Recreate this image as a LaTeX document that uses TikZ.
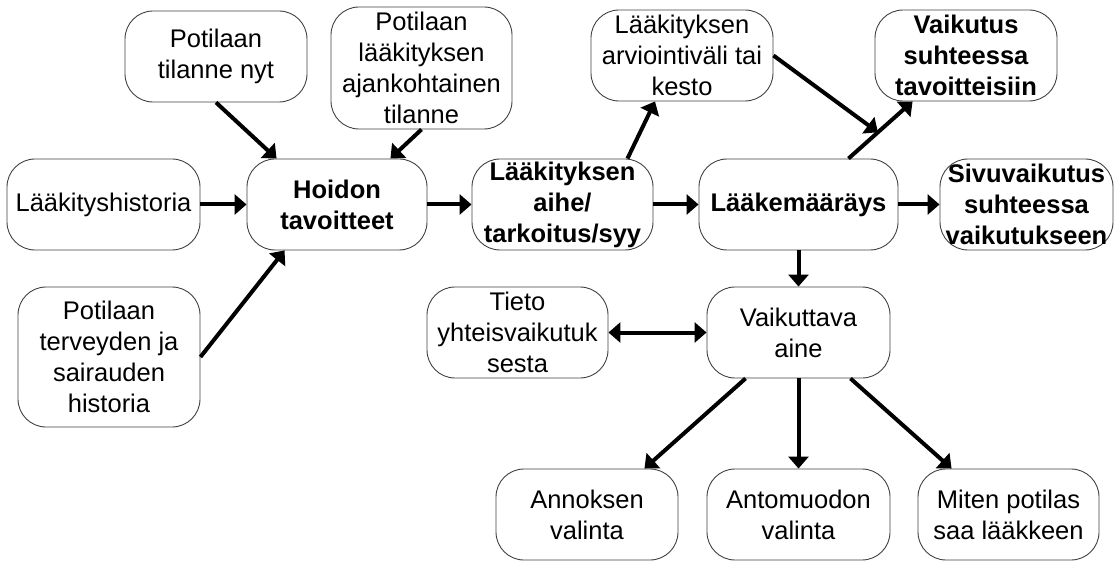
\documentclass[tikz,border=0pt]{standalone}
\usepackage{fontspec}
\setmainfont{Liberation Sans}
\usetikzlibrary{arrows.meta,calc}
\tikzset{
  box/.style={draw=black!75, line width=0.9pt, rounded corners=28pt, inner sep=0pt,
    align=center, font=\fontsize{25.5}{31}\selectfont,
    minimum width=182pt, minimum height=91pt},
  bbox/.style={box, font=\fontsize{25.5}{31}\selectfont\bfseries},
  link/.style={line width=4pt, -{Triangle[length=12pt,width=20pt]}},
  dlink/.style={line width=4pt, {Triangle[length=12pt,width=20pt]}-{Triangle[length=12pt,width=20pt]}},
}
\begin{document}
\begin{tikzpicture}[x=1pt, y=-1pt]
\useasboundingbox (0,0) rectangle (1118,561);

% upper row of inputs
\node[box] (tilanne) at (216,56.5) {Potilaan\\tilanne nyt};
\node[box, minimum width=181pt, minimum height=122pt] (ajank) at (421.5,68)
  {Potilaan\\lääkityksen\\ajankohtainen\\tilanne};
\node[box] (arvio) at (682,55.5) {Lääkityksen\\arviointiväli tai\\kesto};
\node[bbox] (vaik) at (966,55.5) {Vaikutus\\suhteessa\\tavoitteisiin};

% main chain
\node[box, minimum width=193pt] (hist) at (103.5,204.5) {Lääkityshistoria};
\node[bbox, minimum width=180pt] (hoidon) at (337,204.5) {Hoidon\\tavoitteet};
\node[bbox, minimum width=181pt] (aihe) at (562.5,204.5) {Lääkityksen\\aihe/\\tarkoitus/syy};
\node[bbox, minimum width=199pt] (laake) at (798.5,204.5) {Lääkemääräys};
\node[bbox, minimum width=173pt] (sivu) at (1026.5,204.5) {Sivuvaikutus\\suhteessa\\vaikutukseen};

% lower part
\node[box, minimum height=140pt] (terv) at (109,357) {Potilaan\\terveyden ja\\sairauden\\historia};
\node[box, minimum width=181pt] (tieto) at (517.5,332.5) {Tieto\\yhteisvaikutuk\\sesta};
\node[box, minimum width=183pt] (aine) at (798.5,332.5) {Vaikuttava\\aine};
\node[box] (annos) at (587,514.5) {Annoksen\\valinta};
\node[box, minimum width=183pt] (anto) at (798.5,514.5) {Antomuodon\\valinta};
\node[box, minimum width=181pt] (miten) at (1008.5,514.5) {Miten potilas\\saa lääkkeen};

% connectors into the care goals
\draw[link] (tilanne.south) -- ([xshift=30pt]hoidon.north west);
\draw[link] (ajank.south) -- ([xshift=-37pt]hoidon.north east);
\draw[link] (terv.east) -- ([xshift=38pt]hoidon.south west);
\draw[link] (hist.east) -- (hoidon.west);

% main chain
\draw[link] (hoidon.east) -- (aihe.west);
\draw[link] (aihe.east) -- (laake.west);
\draw[link] (laake.east) -- (sivu.west);
\draw[link] ([xshift=-26pt]aihe.north east) -- ([xshift=-27pt]arvio.south);
\draw[link] ([xshift=-50pt]laake.north east) -- coordinate[pos=0.46] (meet) ([xshift=38pt]vaik.south west);
\draw[link] (arvio.east) -- (meet);

% active substance and its branches
\draw[link] (laake.south) -- (aine.north);
\draw[dlink] (tieto.east) -- (aine.west);
\draw[link] ([xshift=39pt]aine.south west) -- ([xshift=-34pt]annos.north east);
\draw[link] (aine.south) -- (anto.north);
\draw[link] ([xshift=-40pt]aine.south east) -- ([xshift=34pt]miten.north west);
\end{tikzpicture}
\end{document}
